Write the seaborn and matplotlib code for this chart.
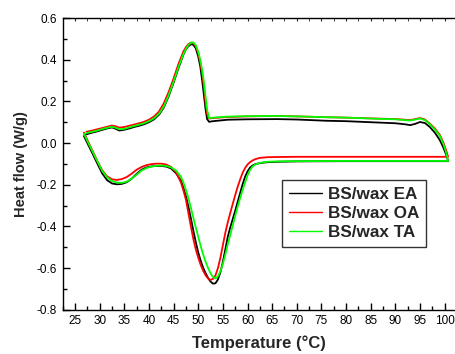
import matplotlib
matplotlib.use("Agg")
import matplotlib.pyplot as plt
from matplotlib.ticker import MultipleLocator
import seaborn as sns
import pandas as pd

# ---------------- data ----------------
series_names = ["BS/wax EA", "BS/wax OA", "BS/wax TA"]
series_colors = ["#000000", "#ff0000", "#00ff00"]

# heating branch (x increasing)
heat_x = [26.8, 27.5, 28.5, 29.5, 30.5, 31.5, 32.5, 33.5, 34.5, 35.5, 36.5, 37.5,
          38.5, 39.5, 40.5, 41.5, 42.5, 43.5, 44.5, 45.5,
          46.5, 47.0, 47.5, 48.0, 48.5, 49.0, 49.5, 50.0, 50.5, 51.0, 51.5, 52.0,
          52.5, 53.0, 53.5, 54.0, 54.5, 55.0, 55.5, 56.0, 56.5, 57.0, 57.5, 58.0,
          58.5, 59.0, 59.5, 60.0, 60.5, 61.0, 61.5,
          62.5, 64, 66, 70, 80, 90, 100.7]
heat_ea = [0.034, 0.0, -0.048, -0.097, -0.145, -0.178, -0.194, -0.198, -0.196, -0.188,
           -0.171, -0.148, -0.128, -0.117, -0.112, -0.110, -0.110, -0.113, -0.122, -0.145,
           -0.18, -0.215, -0.255, -0.305, -0.36, -0.42, -0.475, -0.525, -0.565, -0.598,
           -0.625, -0.648, -0.665, -0.675, -0.673, -0.655, -0.62, -0.57, -0.51, -0.449,
           -0.405, -0.365, -0.325, -0.282, -0.24, -0.198, -0.162, -0.136, -0.118, -0.108,
           -0.102,
           -0.096, -0.092, -0.09, -0.088, -0.087, -0.087, -0.087]
heat_oa = [0.05, 0.015, -0.035, -0.085, -0.13, -0.16, -0.174, -0.177, -0.173, -0.163,
           -0.147, -0.128, -0.115, -0.106, -0.101, -0.099, -0.099, -0.103, -0.115, -0.14,
           -0.19, -0.228, -0.272, -0.335, -0.40, -0.46, -0.51, -0.55, -0.585, -0.613,
           -0.635, -0.65, -0.657, -0.652, -0.635, -0.6, -0.55, -0.49, -0.43, -0.38,
           -0.335, -0.292, -0.25, -0.21, -0.175, -0.143, -0.12, -0.103, -0.092, -0.084,
           -0.078,
           -0.071, -0.068, -0.067, -0.066, -0.066, -0.066, -0.066]
heat_ta = [0.045, 0.01, -0.038, -0.086, -0.133, -0.165, -0.182, -0.19, -0.191, -0.185,
           -0.171, -0.152, -0.132, -0.12, -0.113, -0.109, -0.108, -0.11, -0.117, -0.132,
           -0.162, -0.19, -0.225, -0.265, -0.31, -0.358, -0.405, -0.45, -0.495, -0.535,
           -0.57, -0.6, -0.625, -0.643, -0.65, -0.64, -0.615, -0.58, -0.535, -0.485,
           -0.44, -0.395, -0.35, -0.305, -0.265, -0.225, -0.19, -0.155, -0.13, -0.113,
           -0.104,
           -0.095, -0.09, -0.088, -0.087, -0.086, -0.086, -0.086]

# cooling branch (x decreasing)
cool_x = [100.7, 100.3, 99.7, 99, 98, 97, 96, 95, 94, 93, 92, 90, 87, 80, 76, 70, 66,
          60, 56, 53, 52.2, 51.8, 51.5, 51.2, 50.8, 50.4, 50, 49.5, 49, 48.5, 48, 47.5,
          47, 46, 45, 44, 43, 42, 41, 40, 39, 38, 37, 36, 35, 34, 33.3, 32.5, 31.5,
          30.5, 29.5, 28.5, 27.3]
cool_ea = [-0.087, -0.055, -0.02, 0.015, 0.05, 0.077, 0.096, 0.101, 0.092, 0.086, 0.09,
           0.095, 0.098, 0.105, 0.107, 0.113, 0.115, 0.114, 0.112, 0.105, 0.102, 0.115,
           0.16, 0.22, 0.30, 0.37, 0.415, 0.455, 0.472, 0.474, 0.465, 0.45, 0.425, 0.36,
           0.29, 0.225, 0.17, 0.135, 0.113, 0.1, 0.09, 0.083, 0.077, 0.07, 0.064, 0.06,
           0.068, 0.075, 0.07, 0.063, 0.056, 0.05, 0.042]
cool_oa = [-0.066, -0.035, 0.005, 0.04, 0.07, 0.093, 0.113, 0.12, 0.115, 0.11, 0.112,
           0.115, 0.117, 0.122, 0.124, 0.128, 0.13, 0.128, 0.125, 0.12, 0.118, 0.14,
           0.19, 0.26, 0.335, 0.39, 0.43, 0.465, 0.48, 0.482, 0.475, 0.46, 0.44, 0.38,
           0.31, 0.245, 0.19, 0.15, 0.127, 0.112, 0.102, 0.095, 0.089, 0.083, 0.077,
           0.074, 0.08, 0.084, 0.078, 0.072, 0.066, 0.06, 0.054]
cool_ta = [-0.086, -0.045, -0.002, 0.035, 0.065, 0.09, 0.11, 0.118, 0.113, 0.108, 0.11,
           0.114, 0.116, 0.122, 0.124, 0.128, 0.13, 0.129, 0.127, 0.122, 0.12, 0.16,
           0.22, 0.285, 0.35, 0.40, 0.438, 0.47, 0.483, 0.482, 0.47, 0.452, 0.428, 0.365,
           0.295, 0.23, 0.175, 0.14, 0.118, 0.105, 0.095, 0.088, 0.082, 0.075, 0.068,
           0.066, 0.073, 0.078, 0.073, 0.067, 0.06, 0.054, 0.048]

x_ticks = [25, 30, 35, 40, 45, 50, 55, 60, 65, 70, 75, 80, 85, 90, 95, 100]
y_ticks = [-0.8, -0.6, -0.4, -0.2, 0.0, 0.2, 0.4, 0.6]

# ---------------- build table ----------------
heat = [heat_ea, heat_oa, heat_ta]
cool = [cool_ea, cool_oa, cool_ta]
rows = []
for name, h, c in zip(series_names, heat, cool):
    xs = heat_x + cool_x
    ys = h + c
    for i, (xv, yv) in enumerate(zip(xs, ys)):
        rows.append({"series": name, "order": i, "T": xv, "Q": yv})
df = pd.DataFrame(rows)

# ---------------- plot ----------------
sns.set_style("ticks")
plt.rcParams["font.family"] = ["Liberation Sans", "DejaVu Sans"]

fig = plt.figure(figsize=(4.56, 3.54), dpi=100)
ax = fig.add_axes([0.1375, 0.1251, 1.0 - 0.1375, 0.949 - 0.1251])

for name, col in zip(series_names, series_colors):
    sub = df[df["series"] == name].sort_values("order")
    sns.lineplot(data=sub, x="T", y="Q", sort=False, estimator=None, color=col,
                 linewidth=1.3, ax=ax, label=name)

ax.set_xlim(22.5, 102.3)
ax.set_ylim(-0.8, 0.6)
ax.set_xticks(x_ticks)
ax.set_xticklabels([str(t) for t in x_ticks])
ax.set_yticks(y_ticks)
ax.set_yticklabels([f"{t:.1f}" for t in y_ticks])
ax.xaxis.set_minor_locator(MultipleLocator(2.5))
ax.yaxis.set_minor_locator(MultipleLocator(0.1))
ax.tick_params(which="both", direction="in", labelsize=8.5, width=1,
               colors="black", pad=4)
ax.tick_params(which="major", length=5)
ax.tick_params(which="minor", length=3)
ax.tick_params(axis="x", top=False)

sec = ax.secondary_xaxis("top")
sec.set_xticks(x_ticks)
sec.xaxis.set_minor_locator(MultipleLocator(2.5))
sec.tick_params(which="both", direction="in", length=2, labeltop=False)
sec.spines["top"].set_visible(False)

for s in ["left", "bottom", "top"]:
    ax.spines[s].set_linewidth(1.0)
    ax.spines[s].set_color("black")
ax.spines["right"].set_visible(False)

ax.set_xlabel("Temperature (°C)", fontsize=12, fontweight="bold", labelpad=6)
ax.set_ylabel("Heat flow (W/g)", fontsize=10.5, fontweight="bold", labelpad=6)

leg = ax.legend(loc="upper left", bbox_to_anchor=(0.5577, 0.4446), borderaxespad=0,
                frameon=True, fancybox=False, edgecolor="black",
                prop={"weight": "bold", "size": 12.3}, handlelength=1.95,
                handletextpad=0.35, borderpad=0.4, labelspacing=0.25)
leg.get_frame().set_linewidth(1.0)
for line in leg.get_lines():
    line.set_linewidth(1.0)

fig.savefig("out.png", dpi=100)
